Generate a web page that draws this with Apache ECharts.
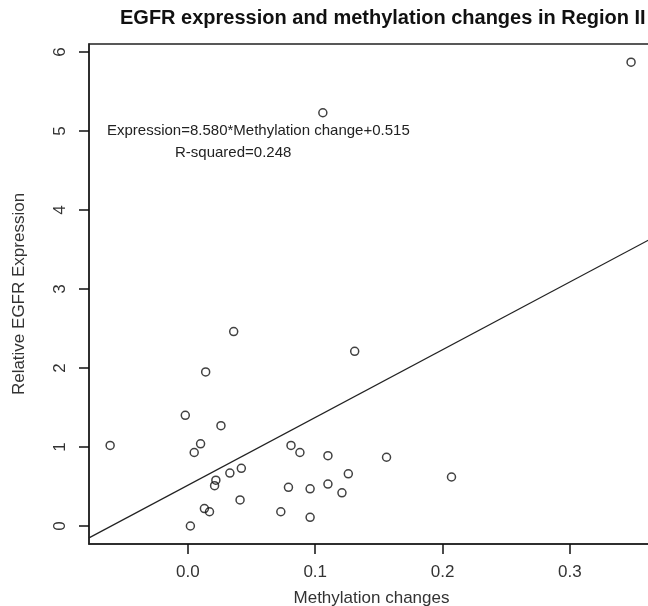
<!DOCTYPE html>
<html style="height: 100%">
<head>
<meta charset="utf-8">
<script src="https://cdn.jsdelivr.net/npm/echarts@6/dist/echarts.min.js"></script>
</head>
<body style="height: 100%; margin: 0; background: #fff">
<div id="container" style="width: 648px; height: 606px;"></div>
<script type="text/javascript">
// methylation change (x) and relative EGFR expression (y)
var methylation = [-0.061, 0.036, 0.014, -0.002, 0.026, 0.010, 0.005, 0.042, 0.033, 0.022,
                   0.021, 0.041, 0.013, 0.017, 0.002, 0.131, 0.081, 0.088, 0.110, 0.156,
                   0.126, 0.207, 0.079, 0.096, 0.110, 0.121, 0.073, 0.096, 0.106, 0.348];
var expression = [1.02, 2.46, 1.95, 1.40, 1.27, 1.04, 0.93, 0.73, 0.67, 0.58,
                  0.51, 0.33, 0.22, 0.18, 0.00, 2.21, 1.02, 0.93, 0.89, 0.87,
                  0.66, 0.62, 0.49, 0.47, 0.53, 0.42, 0.18, 0.11, 5.23, 5.87];
// fitted line: Expression = slope * Methylation + intercept
var slope = 8.580;
var intercept = 0.515;
var xTicks = [0, 0.1, 0.2, 0.3];
var yTicks = [0, 1, 2, 3, 4, 5, 6];
var xRange = [-0.0776, 0.366];
var yRange = [-0.228, 6.10];

var points = [];
for (var i = 0; i < methylation.length; i++) {
    points.push([methylation[i], expression[i]]);
}
var fitLine = [
    [xRange[0], slope * xRange[0] + intercept],
    [xRange[1], slope * xRange[1] + intercept]
];

var font = 'Liberation Sans, Arial, sans-serif';
var dom = document.getElementById("container");
var myChart = echarts.init(dom);
var option = {
    animation: false,
    backgroundColor: '#fff',
    grid: {
        left: 89,
        top: 44,
        right: -6,
        bottom: 62,
        outerBoundsMode: 'none',
        containLabel: false,
        show: true,
        borderColor: '#222',
        borderWidth: 1.5
    },
    graphic: [
        {
            type: 'text', left: 120, top: 8,
            style: { text: 'EGFR expression and methylation changes in Region II',
                     font: 'bold 20px ' + font, fill: '#111' }
        },
        {
            type: 'text', left: 107, top: 123,
            style: { text: 'Expression=8.580*Methylation change+0.515',
                     font: '15px ' + font, fill: '#222' }
        },
        {
            type: 'text', left: 175, top: 145,
            style: { text: 'R-squared=0.248', font: '15px ' + font, fill: '#222' }
        }
    ],
    xAxis: {
        type: 'value',
        min: xRange[0],
        max: xRange[1],
        name: 'Methylation changes',
        nameLocation: 'middle',
        nameGap: 46,
        nameTextStyle: { fontFamily: font, fontSize: 17, color: '#333' },
        axisLine: { show: true, onZero: false, lineStyle: { color: '#222', width: 1.5 } },
        axisTick: { show: true, length: 10, customValues: xTicks, lineStyle: { color: '#111', width: 1.5 } },
        axisLabel: {
            customValues: xTicks, margin: 20,
            fontFamily: font, fontSize: 17, color: '#333',
            formatter: function (v) { return v.toFixed(1); }
        },
        splitLine: { show: false }
    },
    yAxis: {
        type: 'value',
        min: yRange[0],
        max: yRange[1],
        name: 'Relative EGFR Expression',
        nameLocation: 'middle',
        nameGap: 61,
        nameTextStyle: { fontFamily: font, fontSize: 17, color: '#333' },
        axisLine: { show: true, onZero: false, lineStyle: { color: '#222', width: 1.5 } },
        axisTick: { show: true, length: 10, customValues: yTicks, lineStyle: { color: '#111', width: 1.5 } },
        axisLabel: {
            customValues: yTicks, rotate: 90, margin: 20,
            fontFamily: font, fontSize: 17, color: '#333'
        },
        splitLine: { show: false }
    },
    series: [
        {
            name: 'samples',
            type: 'scatter',
            data: points,
            symbol: 'circle',
            symbolSize: 8,
            itemStyle: { color: 'transparent', borderColor: '#111', borderWidth: 1.5 }
        },
        {
            name: 'fit',
            type: 'line',
            data: fitLine,
            symbol: 'none',
            lineStyle: { color: '#222', width: 1.2 }
        }
    ]
};
if (option && typeof option === "object") {
    myChart.setOption(option, true);
}
</script>
</body>
</html>
